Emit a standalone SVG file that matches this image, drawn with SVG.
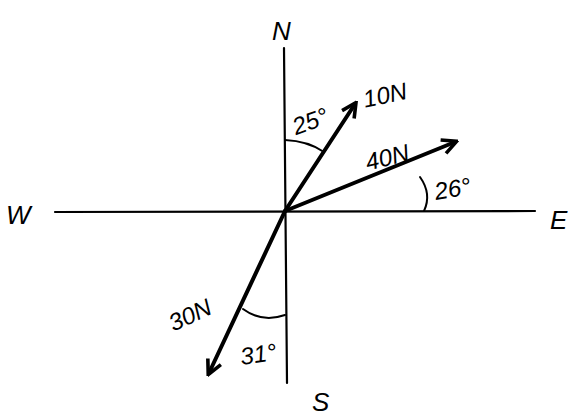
<svg xmlns="http://www.w3.org/2000/svg" width="586" height="420" viewBox="0 0 586 420">
<defs>
<marker id="ah" viewBox="0 0 10 10" refX="8" refY="5" markerWidth="4.5" markerHeight="4.5" orient="auto" markerUnits="strokeWidth">
<path d="M1,1 L9,5 L1,9" fill="none" stroke="#000" stroke-width="2" stroke-linejoin="miter"/>
</marker>
<style>
.ax{stroke:#000;stroke-width:2.2;fill:none;stroke-linecap:round}
.vec{stroke:#000;stroke-width:4;fill:none;stroke-linecap:round}
.arc{stroke:#000;stroke-width:2;fill:none;stroke-linecap:round}
text{font-family:"Liberation Sans",Arial,sans-serif;fill:#000;font-style:italic}
.lbl{font-size:26px}
.num{font-size:24px}
</style>
</defs>
<rect width="586" height="420" fill="#fff"/>
<g id="axes">
<line class="ax" x1="284" y1="48" x2="287" y2="383"/>
<line class="ax" x1="55" y1="212" x2="535" y2="211"/>
</g>
<g id="connectors">
<line class="vec" x1="285" y1="211" x2="355" y2="104" marker-end="url(#ah)"/>
<line class="vec" x1="285" y1="211" x2="455" y2="142" marker-end="url(#ah)"/>
<line class="vec" x1="285" y1="211" x2="209" y2="373" marker-end="url(#ah)"/>
<path class="arc" d="M285,140 Q308,141 324,152"/>
<path class="arc" d="M420,177 Q432,194 424,211"/>
<path class="arc" d="M243,309 Q262,323 285,315"/>
</g>
<g id="N"><text class="lbl" x="272" y="40">N</text></g>
<g id="S"><text class="lbl" x="312" y="411">S</text></g>
<g id="W"><text class="lbl" x="6" y="224">W</text></g>
<g id="E"><text class="lbl" x="550" y="229">E</text></g>
<g id="lbl25"><text class="num" x="292" y="131" transform="rotate(-20 306 122)">25°</text></g>
<g id="lbl10N"><text class="num" x="363" y="104" transform="rotate(-12 382 96)">10N</text></g>
<g id="lbl40N"><text class="num" x="364" y="164" transform="rotate(-14 393 152)">40N</text></g>
<g id="lbl26"><text class="num" x="434" y="196" transform="rotate(-10 458 186)">26°</text></g>
<g id="lbl30N"><text class="num" x="163" y="320" transform="rotate(-25 195 302)">30N</text></g>
<g id="lbl31"><text class="num" x="240" y="362" transform="rotate(-8 262 352)">31°</text></g>
</svg>
